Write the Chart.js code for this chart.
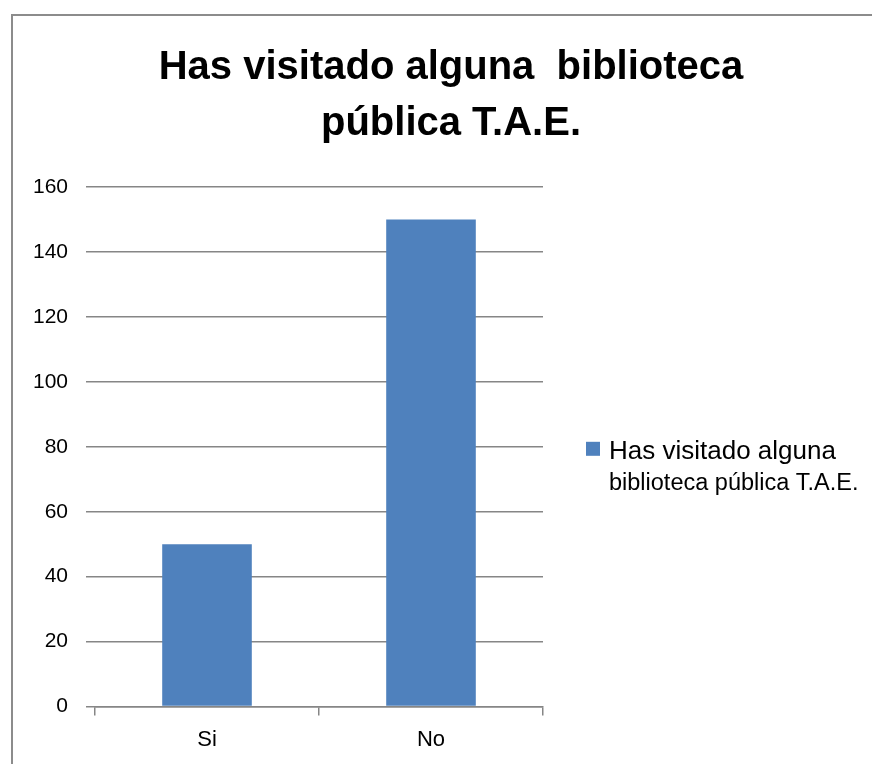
<!DOCTYPE html>
<html>
<head>
<meta charset="utf-8">
<script src="https://cdn.jsdelivr.net/npm/chart.js@4/dist/chart.umd.min.js"></script>
<style>
  html, body { margin: 0; padding: 0; background: #fff; overflow: hidden; }
  #wrap { position: relative; width: 872px; height: 764px; }
  #frame { position: absolute; left: 11px; top: 14px; width: 900px; height: 800px;
           border-left: 2px solid #8c8c8c; border-top: 2px solid #8c8c8c; pointer-events: none; }
</style>
</head>
<body>
<div id="wrap">
  <canvas id="barChart" width="872" height="764"></canvas>
  <div id="frame"></div>
</div>
<script>
var categories = ['Si', 'No']
var visitas = [50, 150]
var titleLines = ['Has visitado alguna  biblioteca', 'pública T.A.E.']
var legendLines = ['Has visitado alguna', 'biblioteca pública T.A.E.']
var yTicks = [0, 20, 40, 60, 80, 100, 120, 140, 160]

var FONT = "'Liberation Sans', Arial, sans-serif"
var gridGray = '#868686'

// legend drawn by hand, the label runs on two lines of different size
var sideLegend = {
	id: 'sideLegend',
	afterDraw: function (chart) {
		var ctx = chart.ctx
		var area = chart.chartArea
		var x = area.right + 43
		var mid = (area.top + area.bottom) / 2
		ctx.save()
		ctx.fillStyle = chart.data.datasets[0].backgroundColor
		ctx.fillRect(x, mid - 5, 14, 14)
		ctx.fillStyle = '#000'
		ctx.textBaseline = 'alphabetic'
		ctx.textAlign = 'left'
		ctx.font = '26px ' + FONT
		ctx.fillText(legendLines[0], x + 23, mid + 12)
		ctx.font = '23.5px ' + FONT
		ctx.fillText(legendLines[1], x + 23, mid + 43)
		ctx.restore()
	}
}

var ctxB = document.getElementById('barChart').getContext('2d')
var myBarChart = new Chart(ctxB, {
	type: 'bar',
	data: {
		labels: categories,
		datasets: [{
			label: legendLines.join(' '),
			data: visitas,
			backgroundColor: '#4F81BD',
			barPercentage: 0.4,
			categoryPercentage: 1.0
		}]
	},
	options: {
		responsive: false,
		animation: false,
		layout: { padding: { left: 30, right: 0, top: 0, bottom: 0 } },
		plugins: {
			legend: { display: false },
			tooltip: { enabled: false },
			title: {
				display: true,
				text: titleLines,
				color: '#000',
				font: { family: FONT, size: 40, weight: 'bold', lineHeight: 1.4 },
				padding: { top: 40, bottom: 35 }
			}
		},
		scales: {
			x: {
				offset: true,
				grid: { offset: true, drawOnChartArea: false, color: gridGray, lineWidth: 1.5, tickLength: 9 },
				border: { display: true, color: gridGray, width: 1.5 },
				ticks: { color: '#000', font: { family: FONT, size: 22 }, padding: 11 }
			},
			y: {
				min: 0,
				max: 160,
				afterBuildTicks: function (scale) {
					scale.ticks = yTicks.map(function (v) { return { value: v } })
				},
				afterFit: function (scale) { scale.width = 65 },
				grid: { color: gridGray, lineWidth: 1.5, tickLength: 9 },
				border: { display: false },
				ticks: { color: '#000', font: { family: FONT, size: 21 }, padding: 18 }
			},
			side: {
				position: 'right',
				afterFit: function (scale) { scale.width = 329 },
				grid: { display: false },
				border: { display: false },
				ticks: { display: false }
			}
		}
	},
	plugins: [sideLegend]
})
</script>
</body>
</html>
